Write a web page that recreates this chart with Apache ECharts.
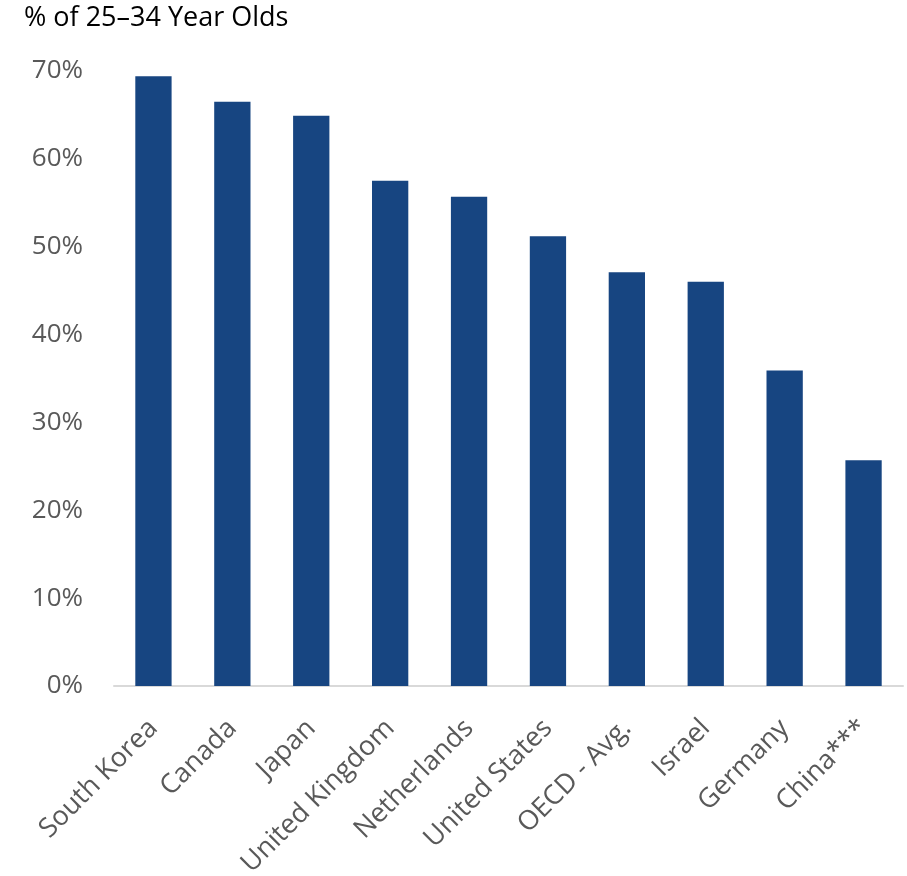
<!DOCTYPE html>
<html><head><meta charset="utf-8">
<script src="https://cdn.jsdelivr.net/npm/echarts@6/dist/echarts.min.js"></script>
<style>html,body{margin:0;padding:0;background:#fff}#c{width:907px;height:876px}</style>
</head><body><div id="c"></div>
<script>
var categories = ["South Korea","Canada","Japan","United Kingdom","Netherlands","United States","OECD - Avg.","Israel","Germany","China***"];
var values = [69.4, 66.5, 64.9, 57.5, 55.7, 51.2, 47.1, 46.0, 35.9, 25.7];
var yTicks = [0,10,20,30,40,50,60,70];
var titleText = "% of 25\u201334 Year Olds";

var chart = echarts.init(document.getElementById('c'), null, {renderer:'canvas'});
chart.setOption({
  animation:false,
  backgroundColor:'#fff',
  title:{text:titleText,left:19,top:0,textStyle:{fontFamily:'Open Sans',fontSize:27,fontWeight:'normal',color:'#000'}},
  grid:{left:114,right:4,top:71,bottom:190,containLabel:false,outerBoundsMode:'none'},
  xAxis:{type:'category',data:categories,
    axisLine:{lineStyle:{color:'#d9d9d9',width:2}},
    axisTick:{show:false},
    axisLabel:{rotate:45,interval:0,margin:38,fontFamily:'Open Sans',fontSize:27,color:'#595959'}},
  yAxis:{type:'value',min:yTicks[0],max:yTicks[yTicks.length-1],interval:10,
    splitLine:{show:false},axisLine:{show:false},axisTick:{show:false},
    axisLabel:{formatter:'{value}%',margin:31,fontFamily:'Open Sans',fontSize:26,color:'#595959'}},
  series:[{type:'bar',data:values,barWidth:'46%',itemStyle:{color:'#174581'}}]
});
</script></body></html>
